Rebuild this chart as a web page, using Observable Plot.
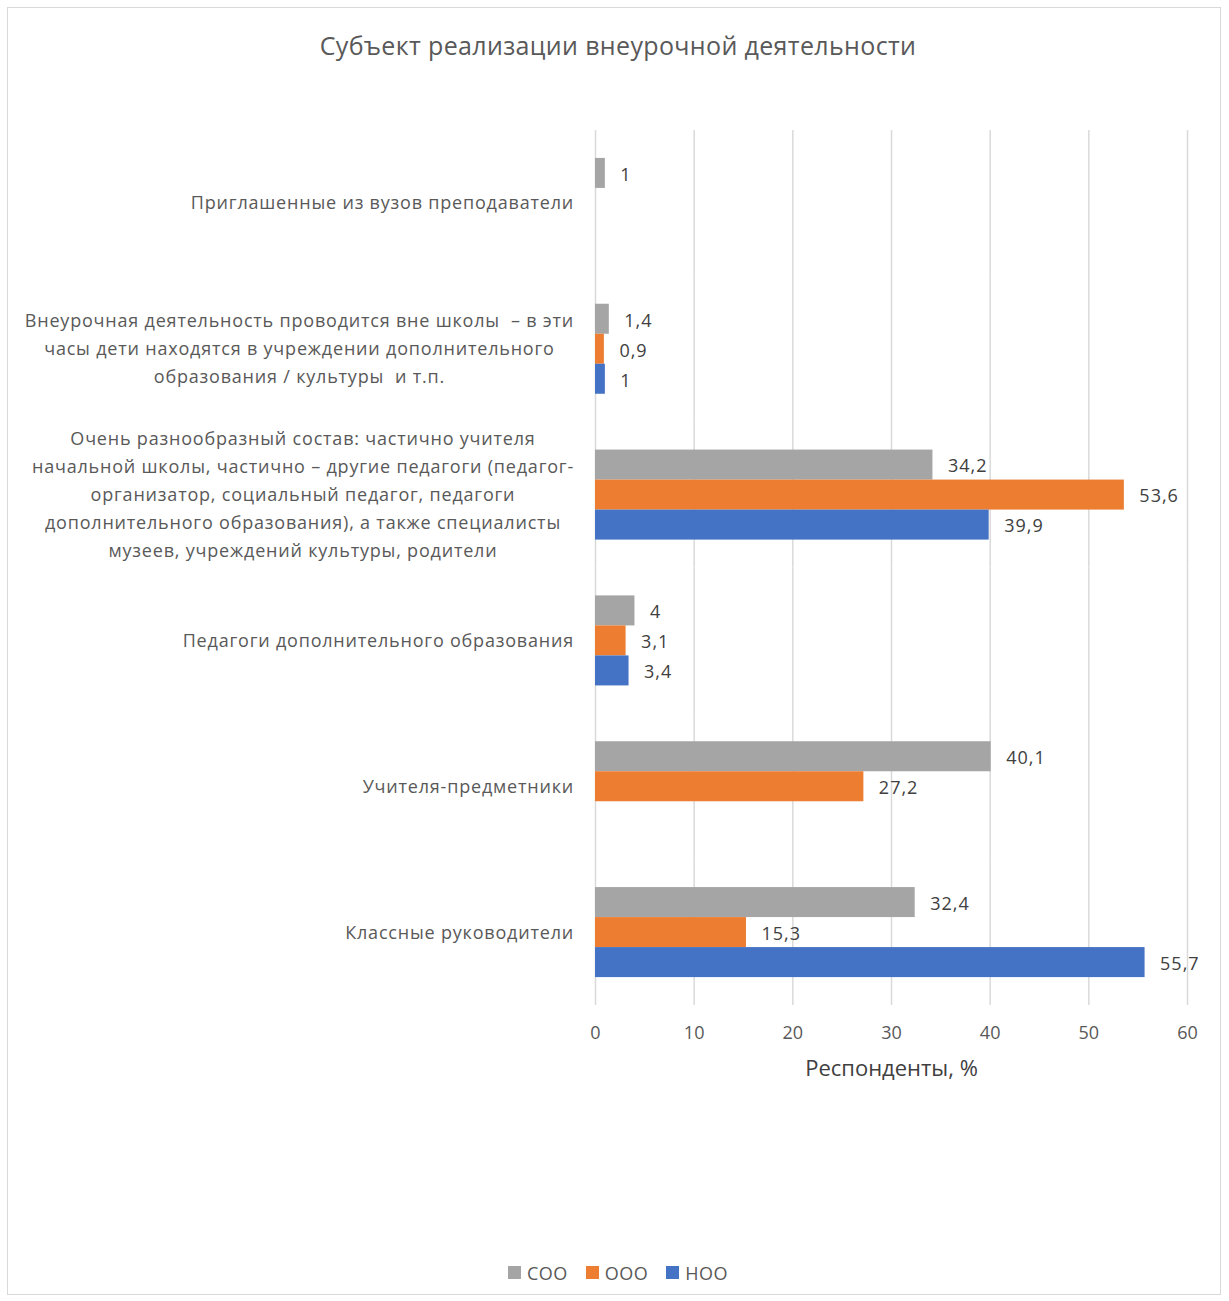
<!DOCTYPE html>
<html>
<head>
<meta charset="utf-8">
<script src="https://cdn.jsdelivr.net/npm/d3@7"></script>
<script src="https://cdn.jsdelivr.net/npm/@observablehq/plot@0.6"></script>
<style>
  html, body { margin: 0; padding: 0; background: #fff; }
  #wrap { position: relative; width: 1229px; height: 1301px; font-family: "Open Sans", sans-serif; overflow: hidden; }
  #frame { position: absolute; left: 7px; top: 7px; width: 1212px; height: 1286px; border: 1.5px solid #d9d9d9; }
  #title { position: absolute; left: 0; width: 1236px; top: 28px; text-align: center; font-size: 25px; color: #595959; letter-spacing: 0.35px; }
  #chart { position: absolute; left: 0; top: 0; }
  #legend { position: absolute; left: 0; width: 1236px; top: 1260px; text-align: center; font-size: 18px; color: #595959; letter-spacing: 0.5px; }
  .li { display: inline-flex; align-items: center; margin: 0 9px; }
  .sw { display: inline-block; width: 13px; height: 13px; margin-right: 6px; }
  #chart [aria-label="fy-axis tick label"] text { letter-spacing: 0.8px; }
  #chart [aria-label="text"] text { letter-spacing: 1px; }
</style>
</head>
<body>
<div id="wrap">
  <div id="frame"></div>
  <div id="title">Субъект реализации внеурочной деятельности</div>
  <div id="chart"></div>
  <div id="legend"></div>
</div>
<script>
const categories = [
  "Приглашенные из вузов преподаватели",
  "Внеурочная деятельность проводится вне школы  – в эти\nчасы дети находятся в учреждении дополнительного\nобразования / культуры  и т.п.",
  "Очень разнообразный состав: частично учителя\nначальной школы, частично – другие педагоги (педагог-\nорганизатор, социальный педагог, педагоги\nдополнительного образования), а также специалисты\nмузеев, учреждений культуры, родители",
  "Педагоги дополнительного образования",
  "Учителя-предметники",
  "Классные руководители"
];
const series = ["СОО", "ООО", "НОО"];
const sooValues = [1, 1.4, 34.2, 4, 40.1, 32.4];
const oooValues = [null, 0.9, 53.6, 3.1, 27.2, 15.3];
const nooValues = [null, 1, 39.9, 3.4, null, 55.7];
const xTicks = [0, 10, 20, 30, 40, 50, 60];
const colors = ["#A5A5A5", "#ED7D31", "#4472C4"];
const axisTitle = "Респонденты, %";

const seriesValues = [sooValues, oooValues, nooValues];
const rows = [];
categories.forEach((c, i) => {
  series.forEach((s, j) => {
    const v = seriesValues[j][i];
    if (v != null) rows.push({category: c, series: s, value: v});
  });
});
const fmt = v => String(v).replace(".", ",");

const plot = Plot.plot({
  width: 1229,
  height: 1105,
  marginLeft: 595,
  marginRight: 42,
  marginTop: 130,
  marginBottom: 100,
  style: {fontFamily: "'Open Sans', sans-serif", fontSize: "18px", color: "#595959", background: "transparent", overflow: "visible"},
  x: {domain: [0, 60], ticks: xTicks},
  fy: {domain: categories, padding: 0, round: false},
  y: {domain: series, paddingInner: 0, paddingOuter: 0.93, round: false, axis: null},
  color: {domain: series, range: colors},
  marks: [
    Plot.ruleX(xTicks, {stroke: "#d9d9d9", strokeWidth: 1.5}),
    Plot.barX(rows, {x: "value", y: "series", fy: "category", fill: "series"}),
    Plot.text(rows, {x: "value", y: "series", fy: "category", text: d => fmt(d.value), textAnchor: "start", dx: 15, dy: 1.5, fill: "#404040", fontSize: 18}),
    Plot.axisX({ticks: xTicks, tickSize: 0, tickPadding: 21, label: null, fontSize: 18}),
    Plot.axisX({ticks: [], tickSize: 0, label: axisTitle, labelAnchor: "center", labelOffset: 70, labelArrow: "none", fontSize: 22, color: "#404040"}),
    Plot.axisFy({anchor: "left", tickSize: 0, tickPadding: 22, dy: -3, textAnchor: "middle", lineHeight: 1.55, label: null, fontSize: 18, tickFormat: d => d})
  ]
});
document.getElementById("chart").appendChild(plot);

// right-align each (centered) category label block to the same edge
const rightEdge = 574;
const svgLeft = plot.getBoundingClientRect().left;
plot.querySelectorAll('[aria-label="fy-axis tick label"] text').forEach(t => {
  const r = t.getBoundingClientRect();
  const shift = rightEdge - (r.right - svgLeft);
  const prev = t.getAttribute("transform") || "";
  t.setAttribute("transform", `translate(${shift},0) ` + prev);
});

const legend = document.getElementById("legend");
series.forEach((s, i) => {
  const item = document.createElement("span");
  item.className = "li";
  item.innerHTML = `<span class="sw" style="background:${colors[i]}"></span>${s}`;
  legend.appendChild(item);
});
</script>
</body>
</html>
